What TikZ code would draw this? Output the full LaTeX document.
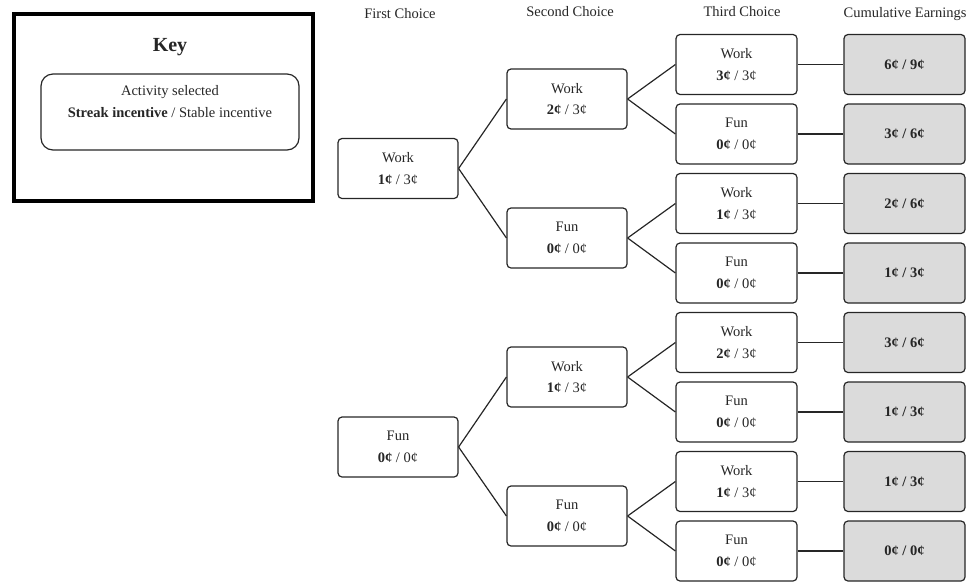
\documentclass[tikz,border=0pt]{standalone}
\usepackage{fontspec}
\setmainfont{Liberation Serif}
\usetikzlibrary{positioning}

\tikzset{
  txt/.style={font=\fontsize{14.5}{21.5}\selectfont, text=black!85, align=center, inner sep=0pt},
  choice/.style={txt, draw=black!85, line width=1.2pt, rounded corners=4pt, minimum width=120pt, minimum height=60pt},
  earn/.style={choice, minimum width=121pt, fill=gray!28, font=\fontsize{14.5}{21.5}\selectfont\bfseries},
  branch/.style={draw=black!85, line width=1.2pt}
}

\begin{document}
\begin{tikzpicture}[x=1pt, y=-1pt]
  \useasboundingbox (0,0) rectangle (974,582);

  % key
  \node[draw, line width=4pt, minimum width=299pt, minimum height=187pt] (keybox) at (163,107.5) {};
  \node[txt, font=\fontsize{20}{24}\selectfont\bfseries] (keytitle) at (170,47) {Key};
  \node[choice, rounded corners=12pt, minimum width=258pt, minimum height=76pt] (keyentry) at (170,112) {};
  \node[txt] (keytext) at (170,101.5) {Activity selected\\ \textbf{Streak incentive} / Stable incentive};

  % headers
  \node[txt] (h1) at (400,14) {First Choice};
  \node[txt] (h2) at (570,12) {Second Choice};
  \node[txt] (h3) at (742,12) {Third Choice};
  \node[txt] (h4) at (905,14) {Cumulative Earnings};

  % first choice
  \node[choice] (w) at (398,168.5) {Work\\ \textbf{1¢} / 3¢};
  \node[choice] (f) at (398,447) {Fun\\ \textbf{0¢} / 0¢};

  % second choice
  \node[choice] (ww) at (567,99) {Work\\ \textbf{2¢} / 3¢};
  \node[choice] (wf) at (567,238) {Fun\\ \textbf{0¢} / 0¢};
  \node[choice] (fw) at (567,377) {Work\\ \textbf{1¢} / 3¢};
  \node[choice] (ff) at (567,516) {Fun\\ \textbf{0¢} / 0¢};

  % third choice
  \node[choice, minimum width=121pt] (www) at (736.5,64.5) {Work\\ \textbf{3¢} / 3¢};
  \node[choice, minimum width=121pt] (wwf) at (736.5,134) {Fun\\ \textbf{0¢} / 0¢};
  \node[choice, minimum width=121pt] (wfw) at (736.5,203.5) {Work\\ \textbf{1¢} / 3¢};
  \node[choice, minimum width=121pt] (wff) at (736.5,273) {Fun\\ \textbf{0¢} / 0¢};
  \node[choice, minimum width=121pt] (fww) at (736.5,342.5) {Work\\ \textbf{2¢} / 3¢};
  \node[choice, minimum width=121pt] (fwf) at (736.5,412) {Fun\\ \textbf{0¢} / 0¢};
  \node[choice, minimum width=121pt] (ffw) at (736.5,481.5) {Work\\ \textbf{1¢} / 3¢};
  \node[choice, minimum width=121pt] (fff) at (736.5,551) {Fun\\ \textbf{0¢} / 0¢};

  % cumulative earnings
  \node[earn] (e1) at (904.5,64.5) {6¢ / 9¢};
  \node[earn] (e2) at (904.5,134) {3¢ / 6¢};
  \node[earn] (e3) at (904.5,203.5) {2¢ / 6¢};
  \node[earn] (e4) at (904.5,273) {1¢ / 3¢};
  \node[earn] (e5) at (904.5,342.5) {3¢ / 6¢};
  \node[earn] (e6) at (904.5,412) {1¢ / 3¢};
  \node[earn] (e7) at (904.5,481.5) {1¢ / 3¢};
  \node[earn] (e8) at (904.5,551) {0¢ / 0¢};

  % branches
  \foreach \a/\b in {w/ww, w/wf, f/fw, f/ff, ww/www, ww/wwf, wf/wfw, wf/wff, fw/fww, fw/fwf, ff/ffw, ff/fff}
    \draw[branch] (\a.east) -- (\b.west);
  \foreach \a/\b in {www/e1, wwf/e2, wfw/e3, wff/e4, fww/e5, fwf/e6, ffw/e7, fff/e8}
    \draw[branch] (\a.east) -- (\b.west);
\end{tikzpicture}
\end{document}
